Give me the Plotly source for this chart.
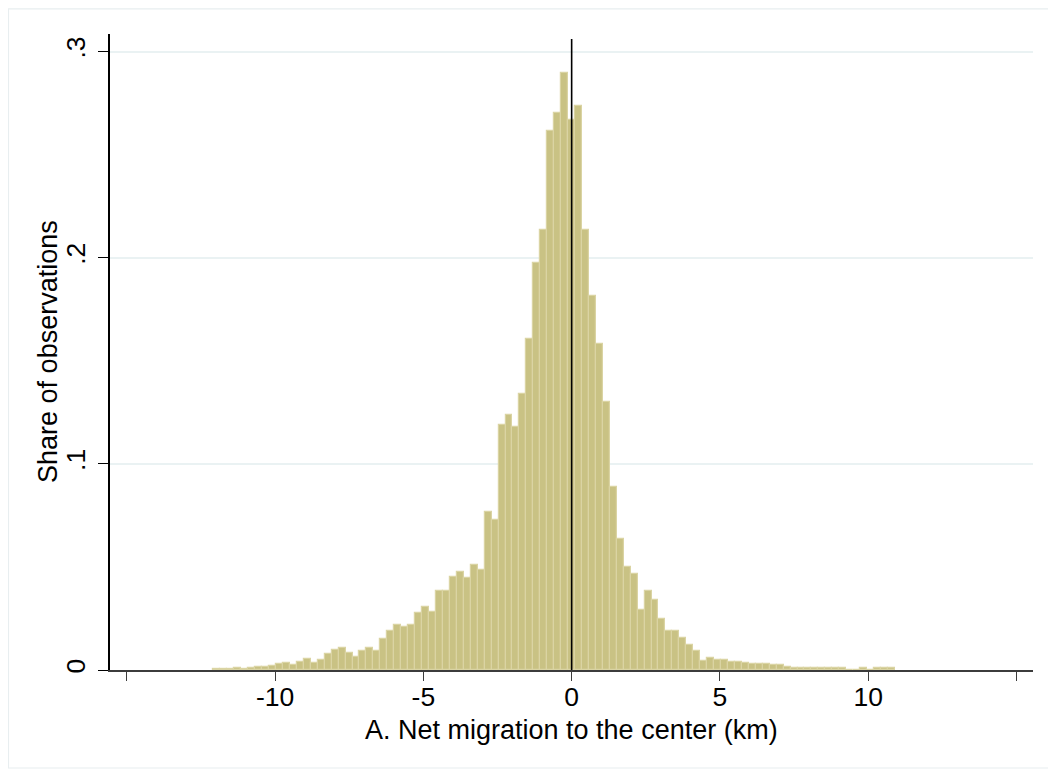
import plotly.graph_objects as go

# Histogram bins (Stata-style): first bin left edge and common width
bin_start = -12.08
bin_width = 0.2345

# Share of observations per bin (left to right)
shares = [
    0.0005, 0.0007, 0.0007, 0.0010, 0.0005, 0.0010, 0.0017, 0.0017, 0.0018, 0.0030,
    0.0035, 0.0025, 0.0040, 0.0052, 0.0036, 0.0050, 0.0078, 0.0097, 0.0108, 0.0082,
    0.0063, 0.0094, 0.0108, 0.0094, 0.0148, 0.0188, 0.0220, 0.0210, 0.0220, 0.0277,
    0.0306, 0.0282, 0.0382, 0.0385, 0.0452, 0.0474, 0.0444, 0.0511, 0.0484, 0.0765,
    0.0730, 0.1190, 0.1236, 0.1180, 0.1341, 0.1604, 0.1973, 0.2136, 0.2615, 0.2700,
    0.2895, 0.2670, 0.2737, 0.2136, 0.1813, 0.1580, 0.1300, 0.0889, 0.0636, 0.0499,
    0.0464, 0.0289, 0.0381, 0.0341, 0.0249, 0.0191, 0.0191, 0.0157, 0.0120, 0.0091,
    0.0045, 0.0059, 0.0047, 0.0047, 0.0038, 0.0040, 0.0035, 0.0030, 0.0030, 0.0028,
    0.0023, 0.0023, 0.0015, 0.0012, 0.0010, 0.0010, 0.0010, 0.0008, 0.0008, 0.0008,
    0.0008, 0.0000, 0.0000, 0.0010, 0.0000, 0.0010, 0.0010, 0.0008,
]

x_tickvals = [-15, -10, -5, 0, 5, 10, 15]
x_ticktext = ["", "-10", "-5", "0", "5", "10", ""]
y_tickvals = [0, 0.1, 0.2, 0.3]
y_ticktext = ["0", ".1", ".2", ".3"]

x_title = "A. Net migration to the center (km)"
y_title = "Share of observations"

centers = [bin_start + bin_width * (i + 0.5) for i in range(len(shares))]

FONT = "Liberation Sans, Arial, sans-serif"

fig = go.Figure()
fig.add_trace(go.Bar(
    x=centers, y=shares, width=bin_width,
    marker=dict(color="rgb(201,194,132)",
                line=dict(color="rgb(218,212,163)", width=1.2)),
    showlegend=False, hoverinfo="x+y",
))

fig.add_shape(type="line", xref="x", yref="y domain", x0=0, x1=0, y0=0, y1=0.992,
              line=dict(color="black", width=1.6), layer="above")

# faint outer frame of the graph region
fig.add_shape(type="rect", xref="paper", yref="paper",
              x0=-0.1100, x1=1.0184, y0=-0.1541, y1=1.0396,
              line=dict(color="rgb(232,238,240)", width=1.2), fillcolor="rgba(0,0,0,0)")

# axis titles
fig.add_annotation(text=x_title, xref="paper", yref="paper", x=0.4995, y=-0.0943,
                   xanchor="center", yanchor="middle", showarrow=False,
                   font=dict(size=27, family=FONT, color="black"))
fig.add_annotation(text=y_title, xref="paper", yref="paper", x=-0.0672, y=0.5016,
                   xanchor="center", yanchor="middle", showarrow=False, textangle=-90,
                   font=dict(size=27, family=FONT, color="black"))

fig.update_layout(
    width=1048, height=766,
    margin=dict(l=102, r=23, t=26, b=104, autoexpand=False),
    paper_bgcolor="white", plot_bgcolor="white",
    bargap=0,
    font=dict(family=FONT, size=26, color="black"),
    xaxis=dict(
        range=[-15.57, 15.56], tickmode="array", tickvals=x_tickvals, ticktext=x_ticktext,
        ticks="outside", ticklen=9, tickwidth=1.3, tickcolor="rgb(60,60,60)",
        showline=True, linecolor="rgb(60,60,60)", linewidth=1.6,
        showgrid=False, zeroline=False, ticklabelstandoff=-7,
        tickfont=dict(size=26.5),
    ),
    yaxis=dict(
        range=[0, 0.3085], tickmode="array", tickvals=y_tickvals, ticktext=y_ticktext,
        tickangle=-90,
        ticks="outside", ticklen=10, tickwidth=1.3, tickcolor="black",
        showline=True, linecolor="black", linewidth=1.6,
        showgrid=True, gridcolor="rgb(234,242,243)", gridwidth=1.6,
        zeroline=False, ticklabelstandoff=3,
        tickfont=dict(size=26.5),
    ),
)

fig.write_html("out.html")
